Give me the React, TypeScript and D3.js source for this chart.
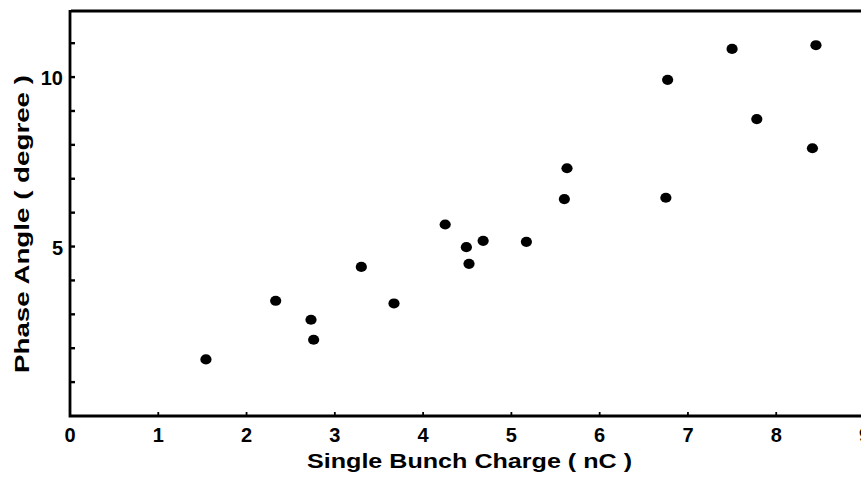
import { useRef, useEffect } from 'react';
import { select, scaleLinear, range } from 'd3';

// Single bunch charge (nC)
const charge = [1.54, 2.33, 2.73, 2.76, 3.3, 3.67, 4.25, 4.49, 4.52, 4.68, 5.17, 5.6, 5.63, 6.75, 6.77, 7.5, 7.78, 8.41, 8.45];
// Phase angle (degree)
const phase = [1.67, 3.4, 2.84, 2.25, 4.4, 3.32, 5.65, 4.98, 4.49, 5.17, 5.14, 6.4, 7.31, 6.44, 9.92, 10.83, 8.76, 7.9, 10.94];

const xTickLabels = ['0', '1', '2', '3', '4', '5', '6', '7', '8', '9'];
const yTickValues = [1, 2, 3, 4, 5, 6, 7, 8, 9, 10, 11];
const yTickLabels = ['5', '10'];

const width = 861;
const height = 479;
const FONT = '"Liberation Sans", Arial, sans-serif';

export default function App() {
  const ref = useRef<SVGSVGElement>(null);

  useEffect(() => {
    if (!ref.current) return;
    const svg = select(ref.current);
    svg.selectAll('*').remove();

    const x = scaleLinear().domain([0, 9]).range([70, 864.5]);
    const y = scaleLinear().domain([0, 11.95]).range([416, 11]);

    svg.append('rect').attr('width', width).attr('height', height).attr('fill', '#fff');

    // frame: left, top, bottom (right side is cut off)
    svg
      .append('path')
      .attr('d', `M${x(0) + 1},${y(11.95)}H${width + 10}M${x(0)},${y(11.95) - 1}V${y(0)}H${width + 10}`)
      .attr('fill', 'none')
      .attr('stroke', '#000')
      .attr('stroke-width', 2.8);

    // y ticks (inward)
    svg
      .append('g')
      .selectAll('line')
      .data(yTickValues)
      .join('line')
      .attr('x1', x(0))
      .attr('x2', x(0) + 5)
      .attr('y1', d => y(d))
      .attr('y2', d => y(d))
      .attr('stroke', '#000')
      .attr('stroke-width', 2.4);

    // x ticks (inward)
    svg
      .append('g')
      .selectAll('line')
      .data(range(1, 10))
      .join('line')
      .attr('x1', d => x(d))
      .attr('x2', d => x(d))
      .attr('y1', y(0))
      .attr('y2', y(0) - 4)
      .attr('stroke', '#000')
      .attr('stroke-width', 1.8);

    svg
      .append('g')
      .selectAll('text')
      .data(xTickLabels)
      .join('text')
      .attr('x', d => x(+d))
      .attr('y', 442)
      .attr('text-anchor', 'middle')
      .attr('font-family', FONT)
      .attr('font-weight', 'bold')
      .attr('font-size', 20)
      .text(d => d);

    svg
      .append('g')
      .selectAll('text')
      .data(yTickLabels)
      .join('text')
      .attr('x', 63)
      .attr('y', d => y(+d) + 8)
      .attr('text-anchor', 'end')
      .attr('font-family', FONT)
      .attr('font-weight', 'bold')
      .attr('font-size', 20)
      .text(d => d);

    svg
      .append('text')
      .attr('x', 307)
      .attr('y', 468)
      .attr('font-family', FONT)
      .attr('font-weight', 'bold')
      .attr('font-size', 20)
      .attr('textLength', 325)
      .attr('lengthAdjust', 'spacingAndGlyphs')
      .text('Single Bunch Charge ( nC )');

    svg
      .append('text')
      .attr('transform', 'translate(29,373) rotate(-90)')
      .attr('font-family', FONT)
      .attr('font-weight', 'bold')
      .attr('font-size', 21)
      .attr('textLength', 298)
      .attr('lengthAdjust', 'spacingAndGlyphs')
      .text('Phase Angle ( degree )');

    svg
      .append('g')
      .selectAll('ellipse')
      .data(charge.map((c, i) => [c, phase[i]]))
      .join('ellipse')
      .attr('cx', d => x(d[0]))
      .attr('cy', d => y(d[1]))
      .attr('rx', 5.6)
      .attr('ry', 5.1)
      .attr('fill', '#000');
  }, []);

  return (
    <svg
      ref={ref}
      width={width}
      height={height}
      style={{ position: 'absolute', left: 0, top: 0, display: 'block' }}
    />
  );
}
